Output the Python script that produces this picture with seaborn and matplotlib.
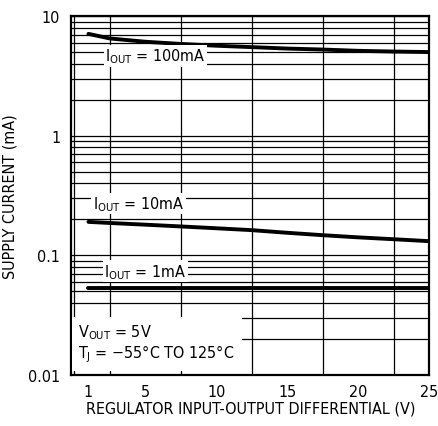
import matplotlib
matplotlib.use('Agg')
import matplotlib.pyplot as plt
from matplotlib import font_manager as fm
import seaborn as sns
import pandas as pd
from matplotlib.ticker import FixedLocator, MultipleLocator, LogLocator, NullFormatter

# data
vdiff = [1, 2.5, 5, 7.5, 10, 12.5, 15, 17.5, 20, 22.5, 25]
i_100ma = [7.1, 6.5, 6.1, 5.85, 5.65, 5.5, 5.35, 5.25, 5.12, 5.05, 5.0]
i_10ma = [0.19, 0.186, 0.18, 0.174, 0.168, 0.162, 0.154, 0.147, 0.141, 0.136, 0.131]
i_1ma = [0.053, 0.053, 0.053, 0.053, 0.053, 0.053, 0.053, 0.053, 0.053, 0.053, 0.053]

x_ticks = [1, 5, 10, 15, 20, 25]
y_ticks = [0.01, 0.1, 1, 10]
y_ticklabels = ['0.01', '0.1', '1', '10']

df = pd.DataFrame({
    'v': vdiff * 3,
    'i': i_100ma + i_10ma + i_1ma,
    'load': ['100mA'] * len(vdiff) + ['10mA'] * len(vdiff) + ['1mA'] * len(vdiff),
})

sns.set_style('white')

# pick a narrow face if there is one
names = {f.name for f in fm.fontManager.ttflist}
dv_cond = any(f.name == 'DejaVu Sans' and 'condensed' in str(f.stretch) for f in fm.fontManager.ttflist)
if 'Liberation Sans Narrow' in names:
    fam, stretch, fs = 'Liberation Sans Narrow', 'normal', 12
elif dv_cond:
    fam, stretch, fs = 'DejaVu Sans', 'condensed', 11.5
else:
    fam, stretch, fs = 'Liberation Sans', 'normal', 10.5

plt.rcParams['font.family'] = [fam, 'DejaVu Sans']
plt.rcParams['font.stretch'] = stretch
plt.rcParams['text.color'] = 'black'
plt.rcParams['axes.labelcolor'] = 'black'
plt.rcParams['mathtext.fontset'] = 'custom'
plt.rcParams['mathtext.rm'] = fam
plt.rcParams['mathtext.it'] = fam

fig = plt.figure(figsize=(4.38, 4.27), dpi=100)
ax = fig.add_axes([0.163, 0.120, 0.817, 0.840])

sns.lineplot(data=df, x='v', y='i', units='load', estimator=None,
             color='black', linewidth=2.8, ax=ax, legend=False, zorder=3)

ax.set_yscale('log')
ax.set_xlim(-0.2, 25)
ax.set_ylim(0.01, 10)

ax.xaxis.set_major_locator(FixedLocator(x_ticks))
ax.xaxis.set_minor_locator(MultipleLocator(2.5))
ax.yaxis.set_major_locator(FixedLocator(y_ticks))
ax.set_yticklabels(y_ticklabels)
ax.yaxis.set_minor_locator(LogLocator(base=10, subs=range(2, 10)))
ax.yaxis.set_minor_formatter(NullFormatter())

ax.grid(False)
ax.grid(which='minor', axis='x', color='black', lw=0.9)
ax.grid(which='both', axis='y', color='black', lw=0.9)
ax.tick_params(which='both', length=0, labelsize=fs, colors='black', pad=7)
ax.tick_params(axis='y', pad=8)

for s in ax.spines.values():
    s.set_color('black')
    s.set_linewidth(1.6)

ax.set_xlabel('REGULATOR INPUT-OUTPUT DIFFERENTIAL (V)', fontsize=fs, labelpad=1)
ax.set_ylabel('SUPPLY CURRENT (mA)', fontsize=fs, labelpad=8)

box = dict(facecolor='white', edgecolor='none', pad=1.0)
ax.text(2.2, 4.65, r'I$_{\mathrm{OUT}}$ = 100mA', fontsize=fs, va='center', bbox=box, zorder=4)
ax.text(1.3, 0.27, r'I$_{\mathrm{OUT}}$ = 10mA', fontsize=fs, va='center', bbox=box, zorder=4)
ax.text(2.1, 0.0735, r'I$_{\mathrm{OUT}}$ = 1mA', fontsize=fs, va='center', bbox=box, zorder=4)
ax.text(0.3, 0.0185, 'V$_{\\mathrm{OUT}}$ = 5V\nT$_{\\mathrm{J}}$ = \u221255\u00b0C TO 125\u00b0C',
        fontsize=fs, va='center', linespacing=1.1,
        bbox=dict(facecolor='white', edgecolor='none', pad=5), zorder=4)

fig.savefig('out.png', dpi=100)
